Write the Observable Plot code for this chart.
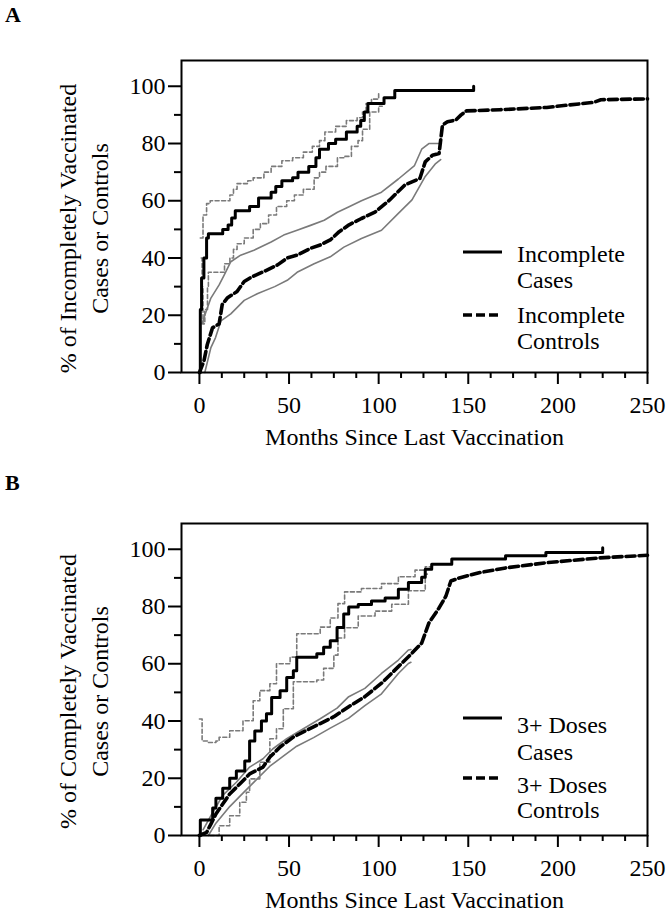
<!DOCTYPE html>
<html><head><meta charset="utf-8">
<script src="https://cdn.jsdelivr.net/npm/d3@7"></script>
<script src="https://cdn.jsdelivr.net/npm/@observablehq/plot@0.6"></script>
<style>
body{margin:0;background:#fff;}
#wrap{position:relative;width:672px;height:921px;background:#fff;}
.panel{position:absolute;left:0;}
svg, svg text{font-family:'Liberation Serif','Times New Roman',Times,'DejaVu Serif',serif !important;}
</style></head><body><div id="wrap"></div>
<script>
// Tick values
const xMajorTicks = [0, 50, 100, 150, 200, 250];
const xMinorTicks = [12.5, 25, 37.5, 62.5, 75, 87.5, 112.5, 125, 137.5, 162.5, 175, 187.5, 212.5, 225, 237.5];
const yMajorTicks = [0, 20, 40, 60, 80, 100];
const yMinorTicks = [10, 30, 50, 70, 90];
const xLabel = "Months Since Last Vaccination";

// Panel A: incompletely vaccinated  [month, %]
const aCases = [[0,0],[0.5,22],[1.2,33],[2.5,40],[4,47],[5,48.5],[13,50],[16,51.5],[18,54],[20,56.5],[28,58],[33,61],[40,63],[42.6,65],[46,67],[52,68],[55,70],[61,72],[65,75],[67,78],[72,80],[76,81.5],[82,84],[88,86],[90,88],[92,91],[94,94],[103,96],[109,98.5],[153,98.5],[153,100]];
const aCasesHi = [[0.5,47],[2,55],[4,59],[6,60],[15.5,60],[17,62],[19,64],[21,66],[27,67],[30,68],[36,70],[40,72],[46,74],[52,75],[58,77],[63,79],[67,81],[70,84],[76,86],[82,88],[88,89],[91,91],[93,94],[96,95.5],[100,98]];
const aCasesLo = [[1,40],[1.5,30],[2,17],[3,22],[4.5,30],[5,35],[12,35],[14,38],[17,40],[19,43],[21,45],[25,47],[30,50],[34,52],[38.6,55],[43,58],[48.7,60],[53,62],[58,64],[64,68],[67,70],[70.6,72],[77,75],[81,75.5],[84.8,79],[88.5,81],[91,85],[95,91],[100,93],[102,93]];
const aCtrl = [[0,0],[2.5,4],[4.4,9.8],[7.3,15.6],[11,17],[12.7,23.7],[15.5,26],[21,28.3],[25,31.8],[29,33.3],[36,35.3],[43.6,37.6],[49,40],[54.5,41],[62,43.4],[67.6,44.6],[73,46.3],[78,49.2],[83.5,51.6],[90.4,53.8],[97.9,56],[106,60.2],[114.6,65.5],[123,67.8],[126,73.6],[130,75.9],[133.7,76.5],[135.6,86.4],[138.4,87.6],[143,88.2],[146,90],[149,91.4],[167.6,91.8],[193.8,92.6],[220,94.4],[224,95.3],[250,95.6]];
const aCtrlHi = [[1.5,17],[3,20],[6.4,26],[11,30.6],[13.8,34],[17.5,38.7],[23,41],[30.4,42.7],[40,45.6],[47,48],[54.5,49.7],[62,51.4],[69.6,53.2],[77,56],[83.5,57.9],[90.4,60],[101.6,63],[111,67.6],[120,72.3],[124,78],[128,80],[135,80]];
const aCtrlLo = [[3,0],[6.4,8.7],[9,12.2],[12,18],[17.5,20.5],[25,25.2],[32.6,27.6],[42,30],[49,32.2],[54.5,35],[64,38],[73,40.4],[80.6,43.8],[90.4,46.8],[101.6,49.7],[111,55.6],[118.6,60.3],[126,68.5],[131.8,73],[134.6,74.4]];

// Panel B: completely vaccinated (3+ doses)
const bCases = [[0,0],[0.5,5.4],[6,5.4],[7.4,9.6],[9.2,13],[13,16.5],[16.9,20],[20.6,22.5],[25.3,26],[28,33],[30.9,36.5],[34.6,40],[37.4,42.5],[40.3,48.2],[45,50.6],[48.7,55.2],[52.4,57.6],[54.3,62.3],[65.5,63.5],[69.3,65.8],[73,68],[76.8,72.7],[80.5,77.4],[83.3,79.8],[88.6,80.7],[96,81.9],[103.6,83],[111,86],[116.6,88.4],[124,90.2],[126,93],[129.6,94.8],[140.8,96.6],[170.8,97.7],[193.3,98.9],[225,98.9],[225,100.5]];
const bCasesHi = [[0,40.7],[1.5,33],[5,32.5],[9.2,33],[11,34.3],[16.9,36.6],[24.3,40.1],[30,47.1],[33.7,50.6],[39.3,53],[43,60],[50.6,62.3],[54.3,70.5],[67.4,72.8],[73,76],[77.3,81],[81,85.1],[90.4,86.3],[101.6,88],[111,90.4],[120.3,92.7],[126,93.9],[130,94]];
const bCasesLo = [[6,0],[11,3.4],[16.9,6.9],[22.5,11.6],[26.2,15.1],[28,19.8],[33.7,25.6],[39.3,33.8],[43,37.3],[46.8,44.3],[52.4,53.7],[65.5,54.3],[69.3,58.4],[75,63],[77.3,69],[81,72.6],[88.6,76.7],[98,78.4],[107.3,80.8],[116.6,85.5],[126,91.3],[128,91.3]];
const bCtrl = [[0,0],[4,1.1],[6.4,4],[9.2,7.5],[13,11],[16.9,14.5],[22.5,18],[28,21.5],[35.5,23.9],[39.3,27.4],[45,30.9],[52.4,34.4],[59.9,36.8],[67.4,39.1],[75,41.5],[83.3,45],[92.3,48.5],[101.6,53.2],[111,59],[118.6,63.7],[124,67.2],[128,74.2],[133.7,79.5],[137.5,83.6],[140.3,88.9],[145,90],[156,91.8],[171,93.5],[193.5,95.3],[223.5,97],[250,97.9]];
const bCtrlHi = [[2,2],[6.4,6.9],[13,14],[20.6,18.6],[28,23.9],[35.5,26.8],[41,30.3],[48.7,33.8],[58,37.3],[67.4,40.8],[76.8,44.5],[83.3,48.5],[92.3,51.4],[101.6,56.6],[111,61.3],[116.6,64.8],[118,65]];
const bCtrlLo = [[5,0],[9.2,4.3],[16.9,10.1],[24.3,14.8],[31.8,19.5],[39.3,24.2],[46.8,27.7],[54.3,31.2],[63.7,34.2],[73,37.5],[83.3,41],[92.3,45.4],[101.6,49.5],[111,56.6],[116.6,60.1],[118,60.5]];

const FONT = "'Liberation Serif','Times New Roman',Times,'DejaVu Serif',serif";
const GRAY = "#7a7a7a";

function makePanel(cfg) {
  const st = {x: d => d[0], y: d => d[1], curve: "step-after"};
  const ln = {x: d => d[0], y: d => d[1], curve: "linear"};
  const svg = Plot.plot({
    width: 672, height: cfg.height,
    marginLeft: 181, marginRight: 25, marginTop: 60, marginBottom: cfg.height - 372,
    style: {fontFamily: FONT, fontSize: "24px", background: "white", color: "black"},
    x: {domain: [-10, 250]},
    y: {domain: [0, 109]},
    marks: [
      Plot.line(cfg.ctrlHi, {...ln, stroke: GRAY, strokeWidth: 1.6}),
      Plot.line(cfg.ctrlLo, {...ln, stroke: GRAY, strokeWidth: 1.6}),
      Plot.line(cfg.casesHi, {...st, stroke: GRAY, strokeWidth: 1.6, strokeDasharray: "4,2.5"}),
      Plot.line(cfg.casesLo, {...st, stroke: GRAY, strokeWidth: 1.6, strokeDasharray: "4,2.5"}),
      Plot.line(cfg.ctrl, {...ln, stroke: "black", strokeWidth: 3.6, strokeDasharray: "9,4"}),
      Plot.line(cfg.cases, {...st, stroke: "black", strokeWidth: 3}),
      Plot.frame({stroke: "black", strokeWidth: 2}),
      Plot.axisX({ticks: xMajorTicks, tickSize: 12, tickPadding: 11, strokeWidth: 2, label: null, fontSize: 24}),
      Plot.axisX({ticks: xMinorTicks, tickSize: 6, strokeWidth: 2, label: null, tickFormat: () => ""}),
      Plot.axisY({ticks: yMajorTicks, tickSize: 13, tickPadding: 3, strokeWidth: 2, label: null, fontSize: 24}),
      Plot.axisY({ticks: yMinorTicks, tickSize: 7, strokeWidth: 2, label: null, tickFormat: () => ""}),
      Plot.text([xLabel], {text: d => d, frameAnchor: "bottom", dy: 72, fontSize: 24, textAnchor: "middle"}),
      Plot.text([cfg.yLabel], {text: d => d, frameAnchor: "left", rotate: -90, dx: -100, dy: 12, fontSize: 24, lineHeight: 1.35, textAnchor: "middle"})
    ]
  });
  const s = d3.select(svg);
  // panel letter
  s.append("text").attr("x", 5).attr("y", cfg.letterY).attr("font-family", FONT).attr("text-anchor", "start")
    .attr("font-weight", "bold").attr("font-size", 22).attr("fill", "black").text(cfg.letter);
  // legend
  const lg = cfg.legend;
  const g = s.append("g").attr("font-family", FONT).attr("font-size", 24).attr("fill", "black").attr("text-anchor", "start");
  g.append("line").attr("x1", 463).attr("x2", 502).attr("y1", lg.y1).attr("y2", lg.y1)
    .attr("stroke", "black").attr("stroke-width", 3);
  g.append("line").attr("x1", 463).attr("x2", 502).attr("y1", lg.y2).attr("y2", lg.y2)
    .attr("stroke", "black").attr("stroke-width", 3.6).attr("stroke-dasharray", "9,4");
  lg.lines.forEach(([t, y]) => g.append("text").attr("x", 517).attr("y", y).text(t));
  const div = document.createElement("div");
  div.className = "panel";
  div.style.top = cfg.top + "px";
  div.appendChild(svg);
  document.getElementById("wrap").appendChild(div);
}

makePanel({
  letter: "A", letterY: 22, top: 0, height: 463,
  yLabel: "% of Incompletely Vaccinated\nCases or Controls",
  cases: aCases, casesHi: aCasesHi, casesLo: aCasesLo, ctrl: aCtrl, ctrlHi: aCtrlHi, ctrlLo: aCtrlLo,
  legend: {y1: 252, y2: 315, lines: [["Incomplete", 262], ["Cases", 288], ["Incomplete", 323], ["Controls", 349]]}
});
makePanel({
  letter: "B", letterY: 27, top: 463, height: 458,
  yLabel: "% of Completely Vaccinated\nCases or Controls",
  cases: bCases, casesHi: bCasesHi, casesLo: bCasesLo, ctrl: bCtrl, ctrlHi: bCtrlHi, ctrlLo: bCtrlLo,
  legend: {y1: 255, y2: 315, lines: [["3+ Doses", 270], ["Cases", 297], ["3+ Doses", 330], ["Controls", 355]]}
});
</script></body></html>
